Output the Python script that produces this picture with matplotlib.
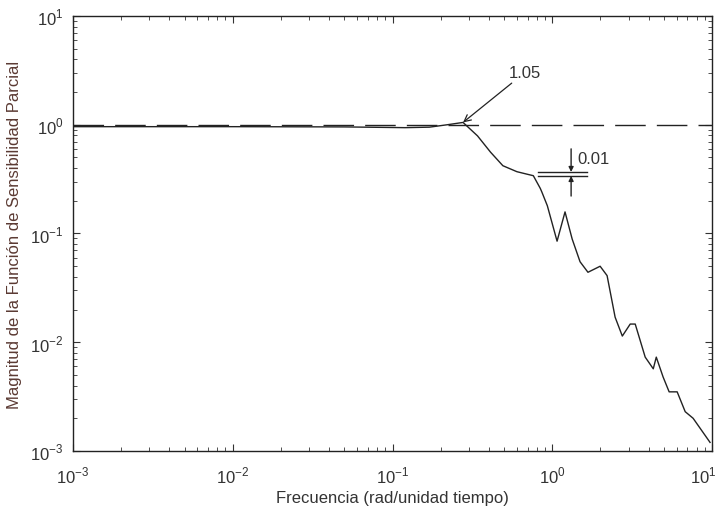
import numpy as np
import matplotlib.pyplot as plt
import matplotlib.transforms as mtransforms

plt.rcParams['font.family'] = ['Liberation Sans', 'DejaVu Sans']
plt.rcParams['mathtext.fontset'] = 'custom'
plt.rcParams['mathtext.rm'] = 'Liberation Sans'

# |S| partial sensitivity magnitude vs frequency
freq = [1e-3, 1e-2, 0.05, 0.09, 0.12, 0.17, 0.22, 0.276,
        0.34, 0.41, 0.49, 0.60, 0.70, 0.76, 0.84, 0.86, 0.93,
        1.07, 1.20, 1.33, 1.49, 1.67, 1.99, 2.20, 2.47, 2.74,
        3.07, 3.30, 3.81, 4.28, 4.47, 4.93, 5.38, 6.04, 6.78, 7.60, 9.70]
mag = [0.96, 0.96, 0.955, 0.945, 0.94, 0.95, 1.0, 1.05,
       0.79, 0.56, 0.42, 0.37, 0.35, 0.34, 0.26, 0.24, 0.18,
       0.085, 0.158, 0.089, 0.055, 0.044, 0.050, 0.041, 0.017, 0.0114,
       0.0147, 0.0147, 0.0073, 0.0057, 0.0073, 0.0048, 0.0035, 0.0035, 0.0023, 0.0020, 0.0012]

ref_freq = [1e-3, 1e1]
ref_mag = [1.0, 1.0]

decades = [1e-3, 1e-2, 1e-1, 1e0, 1e1]
decade_labels = [r'$10^{-3}$', r'$10^{-2}$', r'$10^{-1}$', r'$10^{0}$', r'$10^{1}$']

fig = plt.figure(figsize=(7.23, 5.10), dpi=100)
ax = fig.add_axes([0.101, 0.1137, 0.884, 0.853])

ax.loglog(ref_freq, ref_mag, color='#222222', lw=1.0, dashes=(22, 8))
ax.loglog(freq, mag, color='#222222', lw=1.0)

ax.set_xlim(1e-3, 1e1)
ax.set_ylim(1e-3, 1e1)
ax.set_xticks(decades)
ax.set_xticklabels(decade_labels)
ax.set_yticks(decades)
ax.set_yticklabels(decade_labels)

ax.tick_params(which='both', direction='in', top=True, right=True,
               labelsize=12, labelcolor='#333333', color='#333333')
ax.tick_params(which='major', length=5)
ax.tick_params(axis='x', which='major', pad=10)
ax.tick_params(axis='y', which='major', pad=7)
ax.tick_params(which='minor', length=3)
for s in ax.spines.values():
    s.set_color('#222222')
    s.set_linewidth(1.0)

# keep the last x label inside the figure
last = ax.get_xticklabels()[-1]
last.set_transform(last.get_transform() +
                   mtransforms.ScaledTranslation(-9 / 100, 0, fig.dpi_scale_trans))

ax.set_xlabel('Frecuencia (rad/unidad tiempo)', fontsize=12, color='#333333', labelpad=3)
ax.set_ylabel('Magnitud de la Función de Sensibilidad Parcial', fontsize=12,
              color='#5b3a33', labelpad=6)

# peak marker
ax.annotate('1.05', xy=(0.276, 1.05), xytext=(0.53, 3.0), fontsize=12, color='#333333',
            ha='left', va='center',
            arrowprops=dict(arrowstyle='->', color='#222222', lw=0.9, shrinkA=0, shrinkB=0))

# gap marker between the two levels
ax.plot([0.815, 1.65], [0.368, 0.368], color='#222222', lw=1.0)
ax.plot([0.815, 1.65], [0.338, 0.338], color='#222222', lw=1.0)
ax.annotate('', xy=(1.31, 0.368), xytext=(1.31, 0.60),
            arrowprops=dict(arrowstyle='-|>', color='#222222', lw=1.0,
                            mutation_scale=7, shrinkA=0, shrinkB=0))
ax.annotate('', xy=(1.31, 0.338), xytext=(1.31, 0.221),
            arrowprops=dict(arrowstyle='-|>', color='#222222', lw=1.0,
                            mutation_scale=7, shrinkA=0, shrinkB=0))
ax.text(1.43, 0.49, '0.01', fontsize=12, color='#333333', ha='left', va='center')

fig.savefig('out.png', dpi=100)
